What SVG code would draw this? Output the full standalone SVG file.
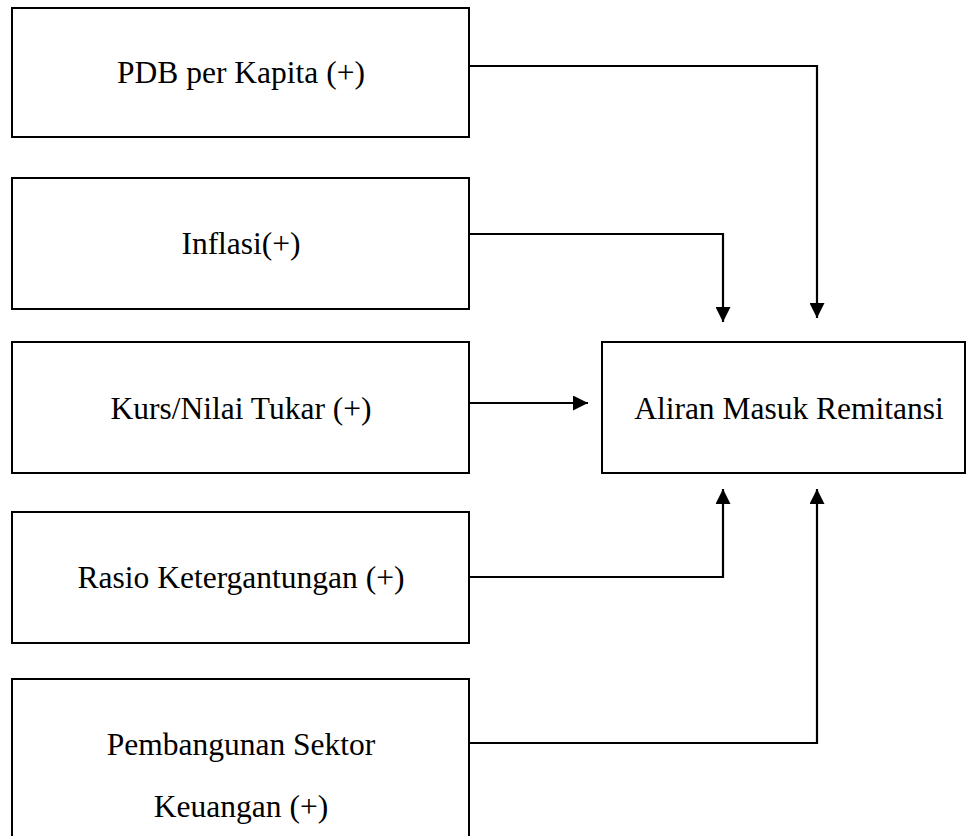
<svg xmlns="http://www.w3.org/2000/svg" width="967" height="836" viewBox="0 0 967 836">
<style>
.box{fill:#fff;stroke:#000;stroke-width:2}
.lbl{font-size:31.5px;fill:#000;text-anchor:middle}
.con{fill:none;stroke:#000;stroke-width:2.2;marker-end:url(#arr)}
</style>
<defs>
<marker id="arr" viewBox="0 0 15 15" refX="15" refY="7.5" markerWidth="15" markerHeight="15" markerUnits="userSpaceOnUse" orient="auto">
<path d="M0,0 L15,7.5 L0,15 z" fill="#000"/>
</marker>
</defs>
<rect width="967" height="836" fill="#fff"/>
<g id="connectors">
<polyline class="con" points="469,66 817,66 817,318"/>
<polyline class="con" points="469,234 723,234 723,322"/>
<polyline class="con" points="469,403 588,403"/>
<polyline class="con" points="469,577 723,577 723,489"/>
<polyline class="con" points="469,743 817,743 817,489"/>
</g>
<g font-family="'Liberation Serif', 'Times New Roman', Times, serif">
<g id="pdb">
<rect class="box" x="12" y="8" width="457" height="129"/>
<text class="lbl" x="241" y="83">PDB per Kapita (+)</text>
</g>
<g id="inflasi">
<rect class="box" x="12" y="178" width="457" height="131"/>
<text class="lbl" x="241" y="254">Inflasi(+)</text>
</g>
<g id="kurs">
<rect class="box" x="12" y="342" width="457" height="131"/>
<text class="lbl" x="241" y="419">Kurs/Nilai Tukar (+)</text>
</g>
<g id="rasio">
<rect class="box" x="12" y="512" width="457" height="131"/>
<text class="lbl" x="241" y="588">Rasio Ketergantungan (+)</text>
</g>
<g id="pembangunan">
<rect class="box" x="12" y="679" width="457" height="180"/>
<text class="lbl" x="241" y="755">Pembangunan Sektor</text>
<text class="lbl" x="241" y="817">Keuangan (+)</text>
</g>
<g id="aliran">
<rect class="box" x="602" y="342" width="363" height="131"/>
<text class="lbl" x="789" y="419">Aliran Masuk Remitansi</text>
</g>
</g>
</svg>
